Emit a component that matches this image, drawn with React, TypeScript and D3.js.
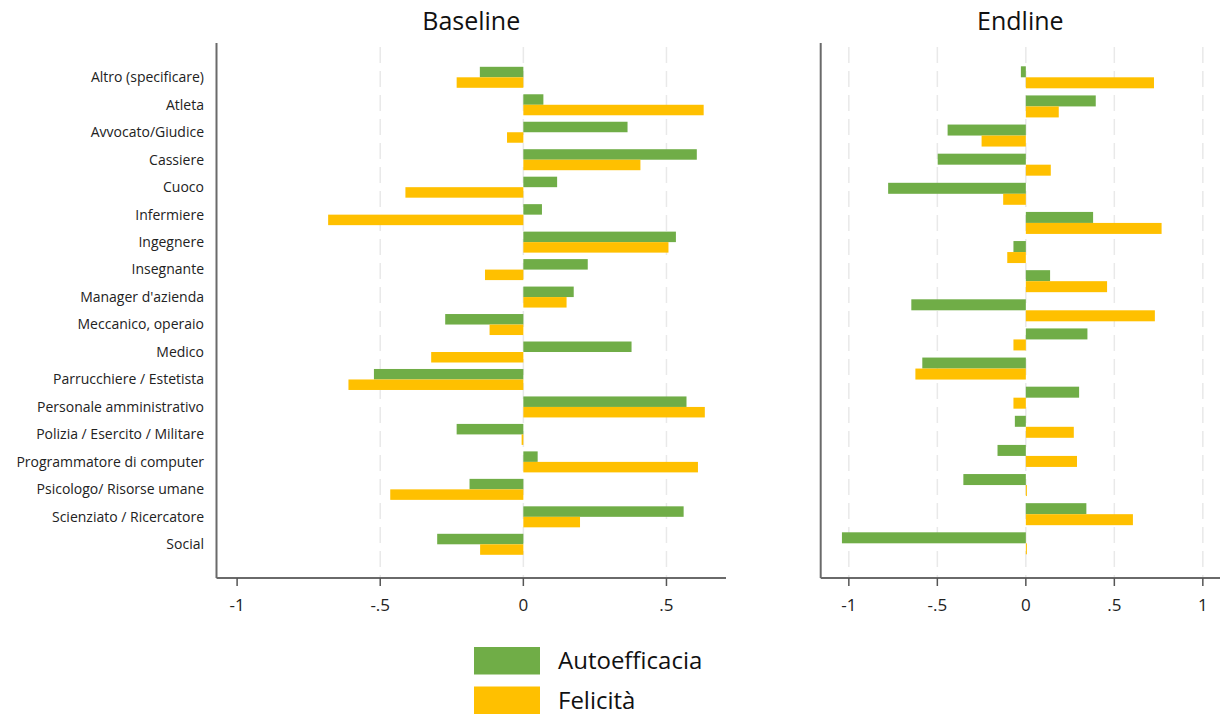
import React from "react";
import * as d3 from "d3";

const baselineCats = [
  "Altro (specificare)",
  "Atleta",
  "Avvocato/Giudice",
  "Cassiere",
  "Cuoco",
  "Infermiere",
  "Ingegnere",
  "Insegnante",
  "Manager d'azienda",
  "Meccanico, operaio",
  "Medico",
  "Parrucchiere / Estetista",
  "Personale amministrativo",
  "Polizia / Esercito / Militare",
  "Programmatore di computer",
  "Psicologo/ Risorse umane",
  "Scienziato / Ricercatore",
  "Social",
];
const baselineAuto = [-0.152, 0.07, 0.364, 0.606, 0.118, 0.065, 0.533, 0.225, 0.176, -0.273, 0.378, -0.522, 0.57, -0.233, 0.05, -0.188, 0.56, -0.301];
const baselineFel = [-0.233, 0.63, -0.057, 0.409, -0.412, -0.682, 0.507, -0.134, 0.151, -0.118, -0.322, -0.611, 0.634, -0.006, 0.61, -0.465, 0.198, -0.151];

// Endline panel has 17 categories (labels hidden in the reference)
const endlineCats = baselineCats.slice(0, 17);
const endlineAuto = [-0.028, 0.395, -0.442, -0.498, -0.778, 0.38, -0.07, 0.137, -0.647, 0.348, -0.585, 0.301, -0.062, -0.16, -0.353, 0.342, -1.039];
const endlineFel = [0.724, 0.186, -0.25, 0.141, -0.128, 0.767, -0.105, 0.459, 0.729, -0.07, -0.624, -0.07, 0.271, 0.289, 0.006, 0.605, 0.006];

const baselineTicks = [-1, -0.5, 0, 0.5];
const endlineTicks = [-1, -0.5, 0, 0.5, 1];
const tickLabel = (v: number) => (v === 0 ? "0" : (v < 0 ? "-" : "") + String(Math.abs(v)).replace(/^0/, ""));

const series = ["Autoefficacia", "Felicità"];
const colors = ["#70AD47", "#FFC000"];

const FONT = "'Open Sans', Lato, sans-serif";

type PanelProps = {
  title: string;
  cats: string[];
  auto: number[];
  fel: number[];
  xDomain: [number, number];
  xRange: [number, number];
  yRange: [number, number];
  barH: number;
  ticks: number[];
  gridTicks: number[];
  showLabels: boolean;
};

function Panel(p: PanelProps) {
  const x = d3.scaleLinear().domain(p.xDomain).range(p.xRange);
  const y = d3.scalePoint<string>().domain(p.cats).range(p.yRange);
  const axisY = 578;
  const top = 43;
  const x0 = x(0);
  return (
    <g>
      <text x={(p.xRange[0] + p.xRange[1]) / 2} y={30} textAnchor="middle" fontSize={25} fontFamily={FONT} fill="#111">
        {p.title}
      </text>
      {p.gridTicks.map((t) => (
        <line key={"g" + t} x1={x(t)} x2={x(t)} y1={47} y2={axisY} stroke="#e9e9e9" strokeWidth={1.5} strokeDasharray="16,8" />
      ))}
      {p.cats.map((c, i) => {
        const cy = y(c) as number;
        const a = p.auto[i];
        const f = p.fel[i];
        return (
          <g key={c}>
            <rect x={Math.min(x0, x(a))} y={cy - p.barH} width={Math.abs(x(a) - x0)} height={p.barH} fill={colors[0]} />
            <rect x={Math.min(x0, x(f))} y={cy} width={Math.abs(x(f) - x0)} height={p.barH} fill={colors[1]} />
          </g>
        );
      })}
      {p.showLabels &&
        p.cats.map((c) => (
          <text key={"l" + c} x={204} y={y(c) as number} dy="0.35em" textAnchor="end" fontSize={14} fontFamily={FONT} fill="#222">
            {c}
          </text>
        ))}
      <line x1={p.xRange[0]} x2={p.xRange[0]} y1={top} y2={axisY} stroke="#6a6a6a" strokeWidth={2} />
      <line x1={p.xRange[0]} x2={p.xRange[1]} y1={axisY} y2={axisY} stroke="#6a6a6a" strokeWidth={2} />
      {p.ticks.map((t) => (
        <g key={"t" + t}>
          <line x1={x(t)} x2={x(t)} y1={axisY} y2={axisY + 8} stroke="#555" strokeWidth={1.5} />
          <text x={x(t)} y={611} textAnchor="middle" fontSize={17} fontFamily={FONT} fill="#222">
            {tickLabel(t)}
          </text>
        </g>
      ))}
    </g>
  );
}

export default function App() {
  return (
    <svg width={1223} height={718} style={{ position: "absolute", left: 0, top: 0, background: "#fff" }}>
      <rect width={1223} height={718} fill="#fff" />
      <Panel
        title="Baseline"
        cats={baselineCats}
        auto={baselineAuto}
        fel={baselineFel}
        xDomain={[-1.072, 0.708]}
        xRange={[216.5, 726]}
        yRange={[77.3, 544.3]}
        barH={10.5}
        ticks={baselineTicks}
        gridTicks={[-0.5, 0, 0.5]}
        showLabels={true}
      />
      <Panel
        title="Endline"
        cats={endlineCats}
        auto={endlineAuto}
        fel={endlineFel}
        xDomain={[-1.159, 1.097]}
        xRange={[820.7, 1220]}
        yRange={[77.3, 543.3]}
        barH={11}
        ticks={endlineTicks}
        gridTicks={endlineTicks}
        showLabels={false}
      />
      {series.map((s, i) => (
        <g key={s}>
          <rect x={474} y={647 + i * 39.5} width={66} height={27.5} fill={colors[i]} />
          <text x={558} y={669 + i * 39.5} fontSize={24} fontFamily={FONT} fill="#111">
            {s}
          </text>
        </g>
      ))}
    </svg>
  );
}
